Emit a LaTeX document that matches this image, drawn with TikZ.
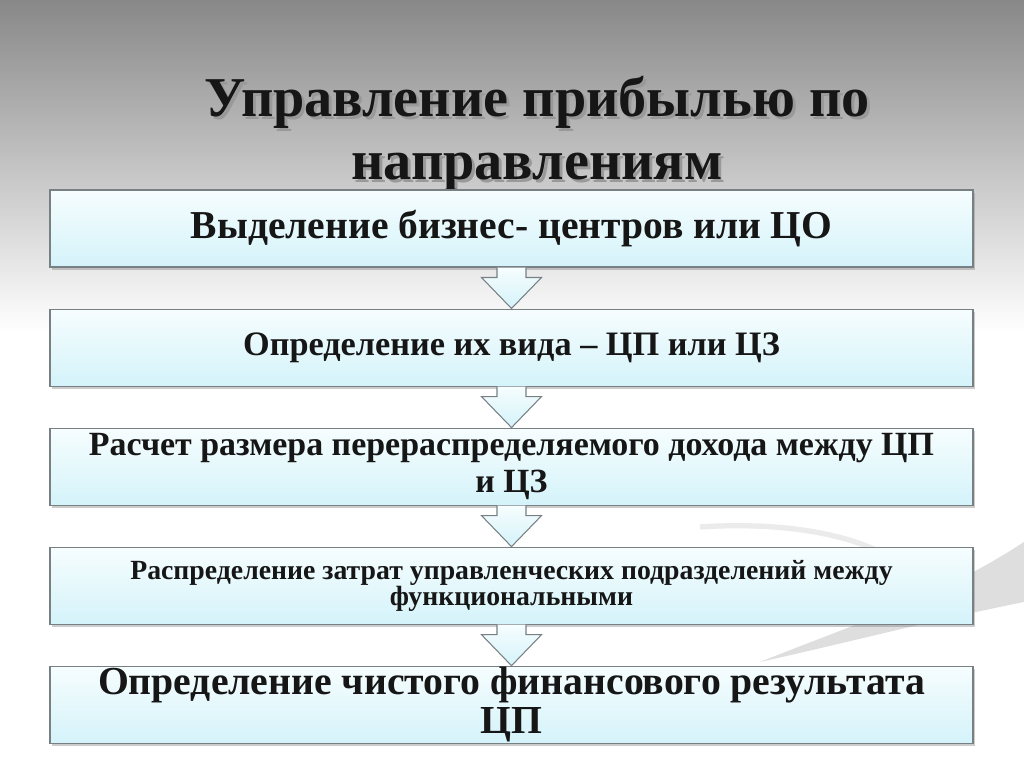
\documentclass[tikz,border=0pt]{standalone}
\usepackage{fontspec}
\setmainfont{Liberation Serif}
\usetikzlibrary{positioning}
\usetikzlibrary{calc}
\usetikzlibrary{shadows}
\definecolor{boxtop}{RGB}{246,253,254}
\definecolor{boxbottom}{RGB}{212,243,250}
\definecolor{boxline}{RGB}{120,128,132}
\definecolor{textdark}{RGB}{22,22,22}
\definecolor{skytop}{RGB}{136,136,136}
\tikzset{node distance=0.82cm,
stepbox/.style={ % Sets the properties for each box
draw=boxline, line width=0.6pt,
top color=boxtop, bottom color=boxbottom,
drop shadow={shadow xshift=1.2pt, shadow yshift=-1.8pt, opacity=0.4},
minimum width=18.46cm, minimum height=1.54cm,
align=center, text=textdark, inner sep=0pt},
flowarrow/.style={ % Block arrow from one box to the next
draw=boxline, line width=0.6pt,
top color=boxtop, bottom color=boxbottom},
swoosh/.style={fill=black!13, draw=none}}
\begin{document}
\begin{tikzpicture}
\useasboundingbox (0,0) rectangle (20.48,15.34);
% background
\shade[top color=skytop, bottom color=white] (0,15.34) rectangle (20.48,8.7);
\fill[white] (0,8.7) rectangle (20.48,0);
\fill[swoosh] (20.48,3.3) .. controls (18.5,2.9) and (17,2.5) .. (15.2,2.1) .. controls (17.2,2.9) and (18.8,3.4) .. (20.48,4.5) -- cycle;
\draw[black!8, line width=3pt] (14,4.8) .. controls (15.5,4.9) and (16.8,4.7) .. (17.6,4.3);

% title
\node[font=\bfseries\fontsize{32}{36}\selectfont, align=center, text=black!40] (titleshadow) at (10.80,12.60) {Управление прибылью по\\направлениям};
\node[font=\bfseries\fontsize{32}{36}\selectfont, align=center, text=textdark] (title) at (10.74,12.66) {Управление прибылью по\\направлениям};

% steps
\node[stepbox, font=\bfseries\fontsize{22.5}{26}\selectfont] (b1) at (10.23,10.77) {Выделение бизнес- центров или ЦО};
\node[stepbox, below=of b1, font=\bfseries\fontsize{19.5}{23}\selectfont] (b2) {Определение их вида – ЦП или ЦЗ};
\node[stepbox, below=of b2, font=\bfseries\fontsize{19.3}{21}\selectfont] (b3) {Расчет размера перераспределяемого дохода между ЦП\\и ЦЗ};
\node[stepbox, below=of b3, font=\bfseries\fontsize{15.8}{15}\selectfont] (b4) {Распределение затрат управленческих подразделений между\\функциональными};
\node[stepbox, below=of b4, font=\bfseries\fontsize{22.6}{22}\selectfont] (b5) {Определение чистого финансового результата\\ЦП};

\foreach \a/\b in {b1/b2,b2/b3,b3/b4,b4/b5}
\draw[flowarrow] ($(\a.south)+(-0.29,0)$) -- ++(0,-0.2) -- ++(-0.31,0) -- (\b.north) -- ($(\a.south)+(0.6,-0.2)$) -- ++(-0.31,0) -- ($(\a.south)+(0.29,0)$);
\end{tikzpicture}
\end{document}
